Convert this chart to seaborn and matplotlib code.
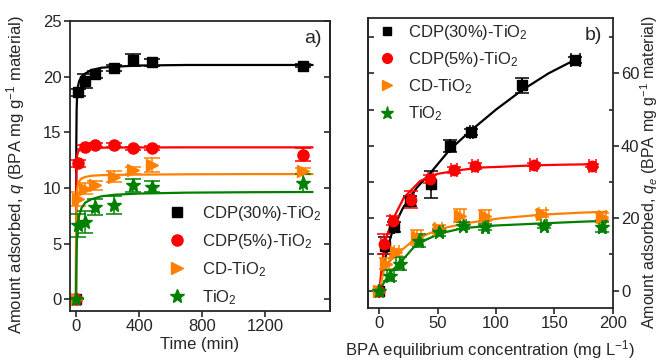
import numpy as np
import matplotlib
matplotlib.use("Agg")
import matplotlib.pyplot as plt
from matplotlib.lines import Line2D
import seaborn as sns

# ---------- panel a: adsorption kinetics ----------
time_min = [0, 10, 60, 120, 240, 360, 480, 1440]
q_cdp30 = [0, 18.6, 19.6, 20.2, 20.8, 21.5, 21.3, 21.0]
q_cdp30_err = [0, 0.3, 0.65, 0.35, 0.25, 0.5, 0.3, 0.15]
q_cdp5 = [0, 12.2, 13.7, 13.85, 13.85, 13.55, 13.6, 13.0]
q_cdp5_err = [0, 0.3, 0.2, 0.2, 0.2, 0.15, 0.15, 0.55]
q_cd = [0, 9.0, 9.95, 10.25, 11.0, 11.6, 12.05, 11.55]
q_cd_err = [0, 0.6, 0.5, 0.4, 0.5, 0.3, 0.65, 0.25]
q_tio2 = [0, 6.65, 6.95, 8.3, 8.45, 10.25, 10.1, 10.45]
q_tio2_err = [0, 1.05, 1.0, 0.7, 0.8, 0.6, 0.5, 0.85]

# fitted kinetic curves
fit_t = [0, 1, 2, 4, 7, 12, 20, 35, 60, 100, 160, 250, 400, 700, 1100, 1500]
fit_cdp30 = [0, 9.0, 14.0, 17.0, 18.3, 19.1, 19.6, 20.0, 20.3, 20.6, 20.8, 20.9, 21.0, 21.05, 21.05, 21.05]
fit_cdp5 = [0, 8.5, 10.8, 12.2, 12.9, 13.2, 13.4, 13.5, 13.55, 13.6, 13.62, 13.63, 13.64, 13.65, 13.65, 13.65]
fit_cd = [0, 5.5, 7.5, 9.0, 9.8, 10.3, 10.6, 10.85, 11.0, 11.1, 11.15, 11.18, 11.2, 11.23, 11.25, 11.25]
fit_tio2 = [0, 1.5, 2.8, 4.5, 5.8, 6.7, 7.5, 8.2, 8.7, 9.0, 9.25, 9.4, 9.5, 9.58, 9.62, 9.64]

# ---------- panel b: adsorption isotherms ----------
c_cdp30 = [0, 5.1, 12.3, 26.6, 44.6, 60.9, 78.9, 122.3, 168]
qe_cdp30 = [0, 12.4, 17.5, 24.8, 29.4, 40.0, 43.7, 56.7, 63.6]
qe_cdp30_err = [0, 2.3, 1.4, 1.4, 3.7, 1.6, 0.8, 2.0, 0.8]
c_cdp30_err = [0, 0, 0, 0, 0, 0, 1.5, 0, 4.0]

c_cdp5 = [0, 3.7, 11.4, 27.4, 43.7, 63.8, 82.3, 132.3, 182.3]
qe_cdp5 = [0, 12.9, 19.3, 25.1, 30.8, 33.3, 34.5, 34.8, 34.5]
qe_cdp5_err = [0, 2.8, 1.2, 2.3, 1.0, 0.8, 0.8, 0.5, 0.4]
c_cdp5_err = [0, 2.0, 2.0, 2.5, 2.0, 2.5, 2.5, 3.0, 3.0]

c_cd = [0, 6.0, 14.6, 32.3, 50.9, 69.4, 90.9, 139.4, 190.9]
qe_cd = [0, 7.4, 10.6, 14.7, 17.0, 20.7, 20.7, 21.3, 20.4]
qe_cd_err = [0, 1.5, 1.0, 2.0, 1.0, 1.8, 1.5, 1.0, 1.0]
c_cd_err = [0, 2.0, 2.0, 3.0, 3.0, 3.0, 3.0, 3.0, 3.0]

c_tio2 = [0, 9.4, 17.4, 33.7, 51.4, 71.4, 90.9, 141.0, 190.9]
qe_tio2 = [0, 4.1, 7.4, 13.8, 16.1, 17.9, 17.5, 17.9, 17.5]
qe_tio2_err = [0, 1.5, 1.8, 1.8, 1.0, 1.0, 0.8, 0.5, 1.4]
c_tio2_err = [0, 3.0, 3.0, 3.0, 3.0, 2.5, 2.5, 2.5, 2.5]

# fitted isotherm curves
fitc_cdp30 = [0, 2, 4, 8, 12, 20, 32, 44, 60, 78, 100, 122, 145, 168]
fitq_cdp30 = [0, 4.0, 7.5, 12.9, 17.3, 22.7, 28.4, 32.6, 38.8, 44.1, 50.0, 55.3, 60.0, 63.8]
fitc_cdp5 = [0, 2.3, 5, 11, 21, 35, 49, 69, 87, 104, 132, 160, 185]
fitq_cdp5 = [0, 7.4, 13.8, 19.3, 25.7, 30.3, 32.2, 33.3, 34.0, 34.2, 34.6, 34.8, 34.9]
fitc_cd = [0, 3.7, 8, 15, 27, 41, 58, 78, 104, 140, 170, 195]
fitq_cd = [0, 5.5, 7.8, 10.1, 13.3, 15.6, 17.5, 18.8, 20.0, 21.0, 21.5, 21.8]
fitc_tio2 = [0, 5, 9.4, 18, 32, 52, 72, 100, 141, 170, 195]
fitq_tio2 = [0, 2.8, 5.1, 7.8, 12.9, 15.8, 17.3, 18.0, 18.6, 19.0, 19.3]

labels = ["CDP(30%)-TiO$_2$", "CDP(5%)-TiO$_2$", "CD-TiO$_2$", "TiO$_2$"]
colors = ["black", "#ff0000", "#ff8000", "#008000"]
markers = ["s", "o", ">", "*"]

sns.set_theme(style="ticks")
plt.rcParams["font.family"] = ["Liberation Sans", "DejaVu Sans"]
plt.rcParams["mathtext.fontset"] = "custom"
plt.rcParams["mathtext.rm"] = "Liberation Sans"
plt.rcParams["mathtext.it"] = "Liberation Sans:italic"
plt.rcParams["font.size"] = 12
plt.rcParams["axes.linewidth"] = 1.3

fig = plt.figure(figsize=(6.61, 3.6), dpi=100)
ax1 = fig.add_axes([70 / 661, 1 - 311 / 360, 260 / 661, 290 / 360])
ax2 = fig.add_axes([367.7 / 661, 1 - 307.7 / 360, 245 / 661, 289.4 / 360])

# panel a
kin_q = [q_cdp30, q_cdp5, q_cd, q_tio2]
kin_err = [q_cdp30_err, q_cdp5_err, q_cd_err, q_tio2_err]
kin_fit = [fit_cdp30, fit_cdp5, fit_cd, fit_tio2]
msize_a = [7, 8, 8, 10]
for i in range(4):
    sns.lineplot(x=fit_t, y=kin_fit[i], ax=ax1, color=colors[i], lw=1.6, sort=False)
    ax1.errorbar(time_min, kin_q[i], yerr=kin_err[i], fmt=markers[i], color=colors[i],
                 ms=msize_a[i], capsize=5.5, elinewidth=1.1, capthick=1.1)

ax1.set_xlim(-38, 1610)
ax1.set_ylim(-1.05, 25)
ax1.set_xticks([0, 400, 800, 1200])
ax1.set_yticks([0, 5, 10, 15, 20, 25])
ax1.tick_params(direction="out", length=4, width=1.2, labelsize=12, pad=2)
sec = ax1.secondary_yaxis("right")
sec.set_yticks([0, 5, 10, 15, 20, 25])
sec.tick_params(direction="in", length=4, width=1.2, labelright=False)
ax1.set_xlabel("Time (min)", fontsize=12, labelpad=2)
ax1.set_ylabel("Amount adsorbed, $q$ (BPA mg g$^{-1}$ material)", fontsize=12)
ax1.yaxis.set_label_coords(-0.165, 0.47)
ax1.text(0.935, 0.94, "a)", transform=ax1.transAxes, ha="center", va="center", fontsize=14)

handles_a = [Line2D([], [], ls="none", marker=markers[i], color=colors[i], ms=msize_a[i])
             for i in range(4)]
ax1.legend(handles_a, labels, loc="upper left", bbox_to_anchor=(0.378, 0.37),
           frameon=False, fontsize=12, handlelength=1.0, handletextpad=1.0,
           labelspacing=0.55, borderpad=0, borderaxespad=0)

# panel b
iso_c = [c_cdp30, c_cdp5, c_cd, c_tio2]
iso_q = [qe_cdp30, qe_cdp5, qe_cd, qe_tio2]
iso_qerr = [qe_cdp30_err, qe_cdp5_err, qe_cd_err, qe_tio2_err]
iso_cerr = [c_cdp30_err, c_cdp5_err, c_cd_err, c_tio2_err]
fit_c = [fitc_cdp30, fitc_cdp5, fitc_cd, fitc_tio2]
fit_q = [fitq_cdp30, fitq_cdp5, fitq_cd, fitq_tio2]
msize_b = [6.5, 7.5, 8, 10]
for i in range(4):
    sns.lineplot(x=fit_c[i], y=fit_q[i], ax=ax2, color=colors[i], lw=1.6, sort=False)
    ax2.errorbar(iso_c[i], iso_q[i], yerr=iso_qerr[i], xerr=iso_cerr[i], fmt=markers[i],
                 color=colors[i], ms=msize_b[i], capsize=5, elinewidth=1.1, capthick=1.1)

ax2.set_xlim(-10, 200)
ax2.set_ylim(-4.7, 75.2)
ax2.set_xticks([0, 50, 100, 150, 200])
ax2.set_yticks([0, 20, 40, 60])
ax2.set_yticks([10, 30, 50, 70], minor=True)
ax2.yaxis.tick_right()
ax2.yaxis.set_label_position("right")
ax2.tick_params(direction="out", length=4, width=1.2, labelsize=12, pad=2)
ax2.tick_params(axis="y", which="minor", direction="in", length=3, width=1.2)
secb = ax2.secondary_yaxis("left")
secb.set_yticks([0, 10, 20, 30, 40, 50, 60, 70])
secb.tick_params(direction="in", length=4, width=1.2, labelleft=False)
ax2.set_xlabel("BPA equilibrium concentration (mg L$^{-1}$)", fontsize=12)
ax2.xaxis.set_label_coords(0.5, -0.105)
ax2.set_ylabel("Amount adsorbed, $q_e$ (BPA mg g$^{-1}$ material)", fontsize=11.5,
               rotation=90)
ax2.yaxis.set_label_coords(1.105, 0.47)
ax2.text(0.92, 0.942, "b)", transform=ax2.transAxes, ha="center", va="center", fontsize=14)

handles_b = [Line2D([], [], ls="none", marker=markers[i], color=colors[i], ms=msize_b[i] - 0.5)
             for i in range(4)]
ax2.legend(handles_b, labels, loc="upper left", bbox_to_anchor=(0.044, 0.985),
           frameon=False, fontsize=12, handlelength=1.0, handletextpad=0.8,
           labelspacing=0.5, borderpad=0, borderaxespad=0)

fig.savefig("out.png", dpi=100)
